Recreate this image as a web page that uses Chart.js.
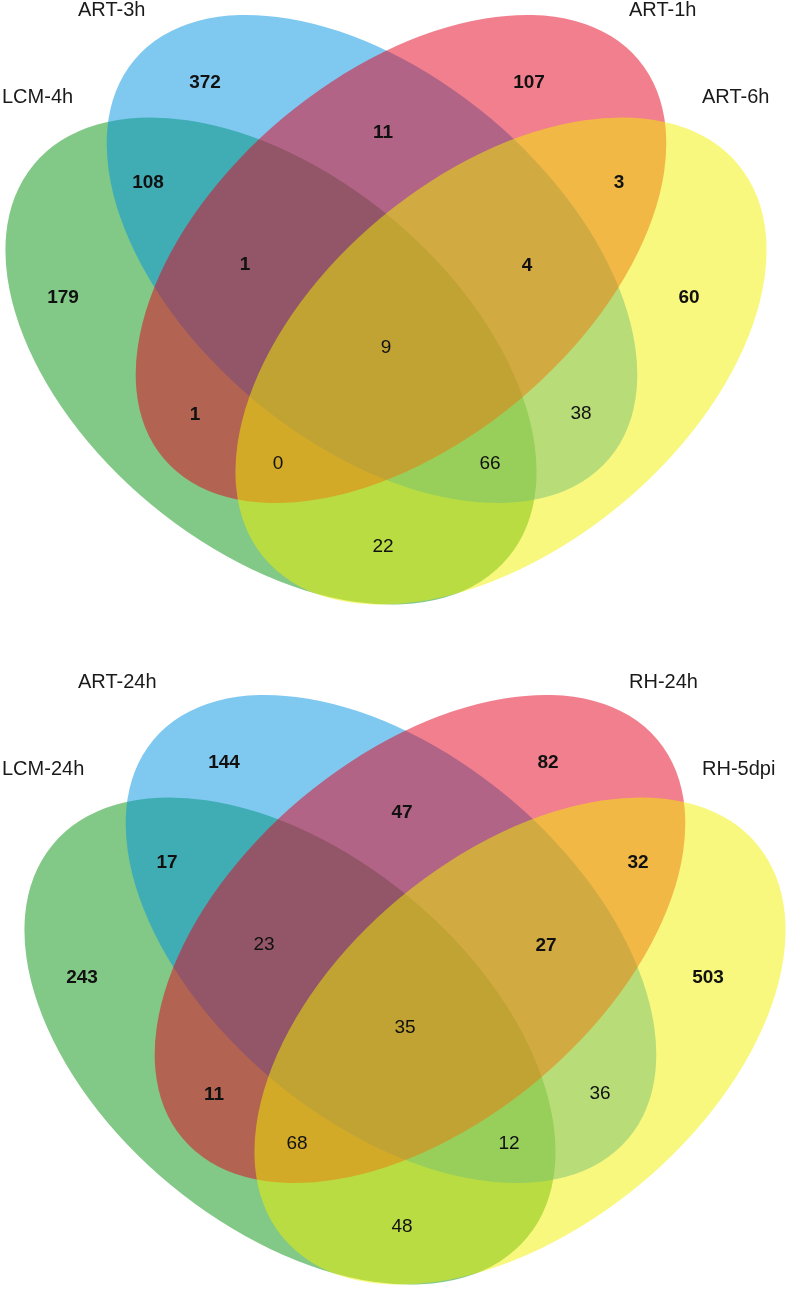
<!DOCTYPE html>
<html lang="en">
  <head>
    <meta charset="UTF-8" />
    <title>Venn diagrams</title>
    <script src="https://cdn.jsdelivr.net/npm/chart.js"></script>
    <style>
      body { margin: 0; background: #fff; }
      canvas { display: block; }
    </style>
  </head>
  <body>
    <canvas id="vennTop" width="789" height="640"></canvas>
    <canvas id="vennBottom" width="789" height="649"></canvas>

    <script>
      // region order: A=left green, B=blue, C=red, D=right yellow
      const regionKeys = ["A", "B", "C", "D", "AB", "BC", "CD", "ABC", "BCD", "ABCD", "AC", "BD", "ACD", "ABD", "AD"];

      const setNamesTop = ["LCM-4h", "ART-3h", "ART-1h", "ART-6h"];
      const countsTop = [179, 372, 107, 60, 108, 11, 3, 1, 4, 9, 1, 38, 0, 66, 22];

      const setNamesBottom = ["LCM-24h", "ART-24h", "RH-24h", "RH-5dpi"];
      const countsBottom = [243, 144, 82, 503, 17, 47, 32, 23, 27, 35, 11, 36, 68, 12, 48];

      // layout (diagram units, 1 unit = 1px)
      const SHAPES = [
        { cx: 271, cy: 361, a: 308, b: 187, rot: 39.6 },
        { cx: 372, cy: 259, a: 310, b: 184, rot: 40 },
        { cx: 401, cy: 259, a: 310, b: 184, rot: -40 },
        { cx: 501, cy: 361, a: 308, b: 187, rot: -39.6 },
      ];
      const FILLS = [
        "rgba(5,145,15,0.5)",
        "rgba(0,148,228,0.5)",
        "rgba(230,0,28,0.5)",
        "rgba(242,242,0,0.5)",
      ];
      const REGION_POS = [
        [63, 298], [205, 83], [529, 83], [689, 298],
        [148, 183], [383, 133], [619, 183],
        [245, 265], [527, 266], [386, 348],
        [195, 415], [581, 414], [278, 464], [490, 464], [383, 547],
      ];
      const TITLE_POS = [[2, 97], [78, 10], [629, 10], [702, 97]];

      const vennPlugin = {
        id: "venn",
        beforeDatasetsDraw(chart, args, opts) {
          const ctx = chart.ctx;
          const sx = chart.scales.x, sy = chart.scales.y;
          const unit = Math.abs(sx.getPixelForValue(1) - sx.getPixelForValue(0));
          ctx.save();
          SHAPES.forEach((s, i) => {
            ctx.fillStyle = FILLS[i];
            ctx.beginPath();
            ctx.ellipse(sx.getPixelForValue(s.cx), sy.getPixelForValue(s.cy),
              s.a * unit, s.b * unit, (s.rot * Math.PI) / 180, 0, 2 * Math.PI);
            ctx.fill();
          });
          ctx.restore();
        },
        afterDatasetsDraw(chart, args, opts) {
          const ctx = chart.ctx;
          const sx = chart.scales.x, sy = chart.scales.y;
          ctx.save();
          ctx.textBaseline = "middle";
          // region counts
          ctx.textAlign = "center";
          ctx.fillStyle = "#111";
          chart.getDatasetMeta(0).data.forEach((pt, i) => {
            ctx.font = (opts.bold[i] ? "bold " : "") + "19px 'Liberation Sans', Arial, sans-serif";
            ctx.fillText(String(opts.counts[i]), pt.x, pt.y);
          });
          // set names
          ctx.textAlign = "left";
          ctx.fillStyle = "#1a1a1a";
          ctx.font = "20px 'Liberation Sans', Arial, sans-serif";
          opts.names.forEach((name, i) => {
            const p = TITLE_POS[i];
            ctx.fillText(name, sx.getPixelForValue(p[0] + opts.titleShift[0]),
              sy.getPixelForValue(p[1] + opts.titleShift[1]));
          });
          ctx.restore();
        },
      };

      function drawVenn(id, names, counts, bold, xMin, yMin, height, titleShift) {
        const ctx = document.getElementById(id).getContext("2d");
        return new Chart(ctx, {
          type: "scatter",
          data: {
            datasets: [
              {
                label: "regions",
                data: REGION_POS.map((p, i) => ({ x: p[0], y: p[1], key: regionKeys[i] })),
                pointRadius: 0,
                pointHoverRadius: 0,
              },
            ],
          },
          options: {
            responsive: false,
            animation: false,
            events: [],
            layout: { padding: 0 },
            scales: {
              x: { type: "linear", display: false, min: xMin, max: xMin + 789 },
              y: { type: "linear", display: false, reverse: true, min: yMin, max: yMin + height },
            },
            plugins: {
              legend: { display: false },
              tooltip: { enabled: false },
              venn: { names: names, counts: counts, bold: bold, titleShift: titleShift },
            },
          },
          plugins: [vennPlugin],
        });
      }

      drawVenn("vennTop", setNamesTop, countsTop,
        [1, 1, 1, 1, 1, 1, 1, 1, 1, 0, 1, 0, 0, 0, 0], 0, 0, 640, [0, 0]);
      drawVenn("vennBottom", setNamesBottom, countsBottom,
        [1, 1, 1, 1, 1, 1, 1, 0, 1, 0, 1, 0, 0, 0, 0], -19, -40, 649, [-19, -8]);
    </script>
  </body>
</html>
